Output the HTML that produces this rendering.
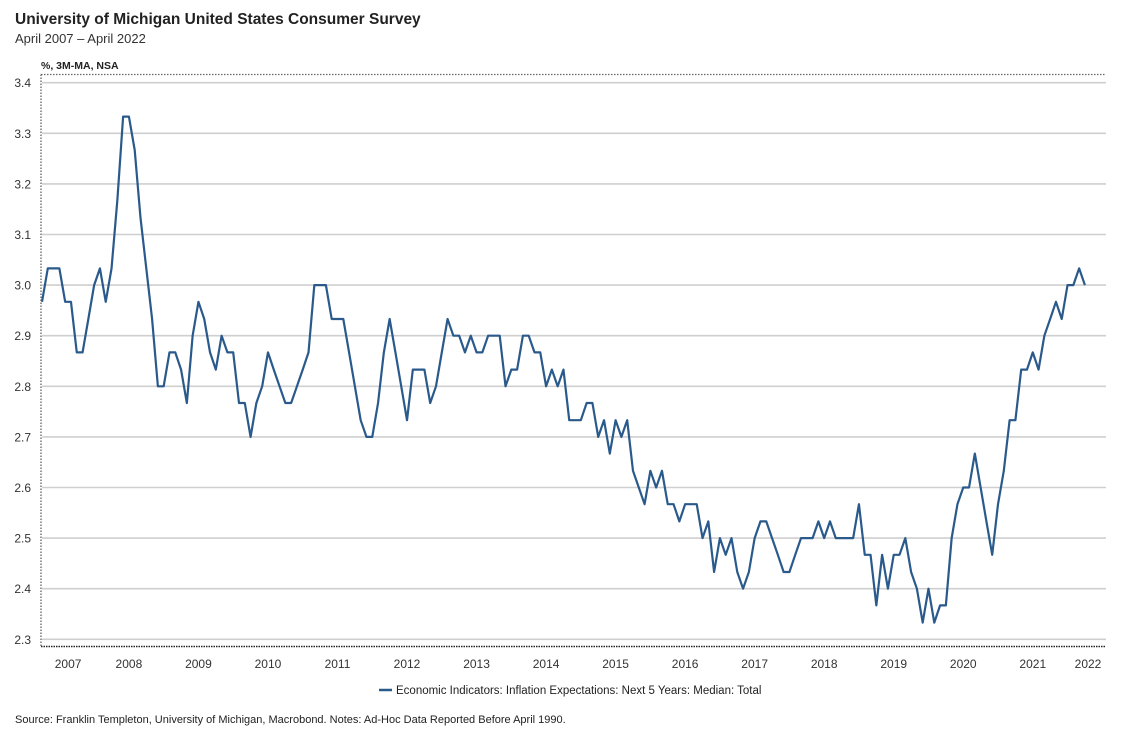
<!DOCTYPE html>
<html><head><meta charset="utf-8"><style>
body{margin:0;background:#fff;}
svg text{font-family:"Liberation Sans",Arial,sans-serif;}
</style></head><body>
<svg id="chart" width="1125" height="735" viewBox="0 0 1125 735" xmlns="http://www.w3.org/2000/svg">
<text x="15" y="24" font-size="15.5" font-weight="bold" fill="#222">University of Michigan United States Consumer Survey</text>
<text x="15" y="43" font-size="13" fill="#333">April 2007 – April 2022</text>
<text x="41" y="69" font-size="10.5" font-weight="bold" fill="#222">%, 3M-MA, NSA</text>
<g id="grid"></g>
<line x1="41" y1="74.5" x2="1106" y2="74.5" stroke="#666" stroke-width="1.3" stroke-dasharray="1.5,1.5"/>
<line x1="41" y1="646.5" x2="1106" y2="646.5" stroke="#222" stroke-width="1.5" stroke-dasharray="1.5,1"/>
<line x1="41" y1="74.5" x2="41" y2="646.5" stroke="#555" stroke-width="1.2" stroke-dasharray="1.5,1.5"/>
<g id="yticks"></g>
<g id="xticks"></g>
<path id="series" fill="none" stroke="#2a5a8c" stroke-width="2.2" stroke-linejoin="round"/>
<line x1="379" y1="690" x2="392" y2="690" stroke="#2a5a8c" stroke-width="2.5"/>
<text x="396" y="694" font-size="11.5" fill="#222">Economic Indicators: Inflation Expectations: Next 5 Years: Median: Total</text>
<text x="15" y="723" font-size="11" fill="#222">Source: Franklin Templeton, University of Michigan, Macrobond. Notes: Ad-Hoc Data Reported Before April 1990.</text>
</svg>
<script>
const yTicks = [2.3,2.4,2.5,2.6,2.7,2.8,2.9,3.0,3.1,3.2,3.3,3.4];
const yearLabels = ["2007","2008","2009","2010","2011","2012","2013","2014","2015","2016","2017","2018","2019","2020","2021","2022"];
const startYear = 2007, startMonth = 4; // April 2007
const values = [
2.967,3.033,3.033,3.033,2.967,2.967,2.867,2.867,2.933,
3.0,3.033,2.967,3.033,3.167,3.333,3.333,3.267,3.133,3.033,2.933,2.8,
2.8,2.867,2.867,2.833,2.767,2.9,2.967,2.933,2.867,2.833,2.9,2.867,
2.867,2.767,2.767,2.7,2.767,2.8,2.867,2.833,2.8,2.767,2.767,2.8,
2.833,2.867,3.0,3.0,3.0,2.933,2.933,2.933,2.867,2.8,2.733,2.7,
2.7,2.767,2.867,2.933,2.867,2.8,2.733,2.833,2.833,2.833,2.767,2.8,
2.867,2.933,2.9,2.9,2.867,2.9,2.867,2.867,2.9,2.9,2.9,2.8,
2.833,2.833,2.9,2.9,2.867,2.867,2.8,2.833,2.8,2.833,2.733,2.733,
2.733,2.767,2.767,2.7,2.733,2.667,2.733,2.7,2.733,2.633,2.6,2.567,
2.633,2.6,2.633,2.567,2.567,2.533,2.567,2.567,2.567,2.5,2.533,2.433,
2.5,2.467,2.5,2.433,2.4,2.433,2.5,2.533,2.533,2.5,2.467,2.433,
2.433,2.467,2.5,2.5,2.5,2.533,2.5,2.533,2.5,2.5,2.5,2.5,
2.567,2.467,2.467,2.367,2.467,2.4,2.467,2.467,2.5,2.433,2.4,2.333,
2.4,2.333,2.367,2.367,2.5,2.567,2.6,2.6,2.667,2.6,2.533,2.467,
2.567,2.633,2.733,2.733,2.833,2.833,2.867,2.833,2.9,2.933,2.967,2.933,
3.0,3.0,3.033,3.0
];
const X0 = 42, MONTH_W = 5.794, PLOT_R = 1106;
function yScale(v){ return 82.7 + (3.4 - v) * 506; }
function xScale(monthIdx){ return X0 + monthIdx * MONTH_W; } // months since April 2007
const NS = "http://www.w3.org/2000/svg";
const grid = document.getElementById('grid');
const yg = document.getElementById('yticks');
yTicks.forEach(t => {
  const y = yScale(t);
  const l = document.createElementNS(NS,'line');
  l.setAttribute('x1',42); l.setAttribute('x2',PLOT_R);
  l.setAttribute('y1',y); l.setAttribute('y2',y);
  l.setAttribute('stroke','#cfcfcf'); l.setAttribute('stroke-width','1.6');
  
  
  grid.appendChild(l);
  const tx = document.createElementNS(NS,'text');
  tx.setAttribute('x',31); tx.setAttribute('y',y+4.5);
  tx.setAttribute('text-anchor','end'); tx.setAttribute('font-size','12'); tx.setAttribute('fill','#333');
  tx.textContent = t.toFixed(1);
  
  
  yg.appendChild(tx);
});
const xg = document.getElementById('xticks');
const nMonths = values.length - 1;
yearLabels.forEach(lbl => {
  const yr = +lbl;
  let a = (yr - startYear) * 12 - (startMonth - 1);
  let b = a + 12;
  const full = (xScale(a) + xScale(b)) / 2;
  a = Math.max(a, 0); b = Math.min(b, nMonths);
  let cx = (xScale(a) + xScale(b)) / 2;
  if (b - a < 12 && a > 0) cx = Math.min(full, PLOT_R - 18);
  const tx = document.createElementNS(NS,'text');
  tx.setAttribute('x',cx); tx.setAttribute('y',668);
  tx.setAttribute('text-anchor','middle'); tx.setAttribute('font-size','12'); tx.setAttribute('fill','#333');
  tx.textContent = lbl;
  
  
  xg.appendChild(tx);
});
document.getElementById('series').setAttribute('d',
  values.map((v,i) => (i ? 'L' : 'M') + xScale(i).toFixed(2) + ',' + yScale(v).toFixed(2)).join(' '));
</script>
</body></html>
